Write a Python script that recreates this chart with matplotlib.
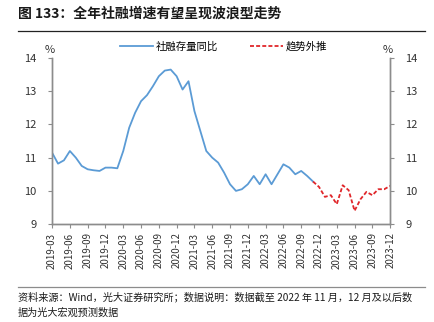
import numpy as np
import pandas as pd
import matplotlib
matplotlib.use("Agg")
import matplotlib.pyplot as plt
from matplotlib.lines import Line2D

plt.rcParams["font.family"] = ["Noto Sans CJK SC", "DejaVu Sans"]

# ── Data ──────────────────────────────────────────────────────────────────────
months = pd.date_range("2019-03", "2023-12", freq="MS").strftime("%Y-%m").tolist()

tsf_actual = [11.15, 10.82, 10.92, 11.2, 11.0, 10.75, 10.65, 10.62, 10.6, 10.7,
              10.7, 10.68, 11.2, 11.9, 12.35, 12.7, 12.88, 13.15, 13.45, 13.62,
              13.65, 13.45, 13.05, 13.3, 12.4, 11.8, 11.2, 11.0, 10.85, 10.55,
              10.2, 10.0, 10.05, 10.2, 10.45, 10.2, 10.5, 10.2, 10.5, 10.8,
              10.7, 10.5, 10.6, 10.45, 10.28]          # 2019-03 .. 2022-11
tsf_forecast = [10.28, 10.12, 9.82, 9.87, 9.6, 10.17, 10.02, 9.4, 9.75,
                9.97, 9.87, 10.05, 10.05, 10.15]      # 2022-11 .. 2023-12

BLUE = "#5B9BD5"
RED = "#E0262A"
GREY = "#8C8C8C"

x_act = np.arange(len(tsf_actual))
x_fc = np.arange(len(tsf_actual) - 1, len(tsf_actual) - 1 + len(tsf_forecast))

fig = plt.figure(figsize=(4.34, 3.22), dpi=100)
ax = fig.add_axes([0.12, 0.304, 0.779, 0.516])

ax.plot(x_act, tsf_actual, color=BLUE, lw=1.3)
ax.plot(x_fc, tsf_forecast, color=RED, lw=1.3, ls=(0, (2.2, 1.2)))

ax.set_xlim(0, len(months) - 1)
ax.set_ylim(9, 14)
ax.set_yticks(range(9, 15))
ax.set_xticks(range(0, len(months), 3))
ax.set_xticklabels(months[::3], rotation=90, fontsize=7, color="#333333")

ax.tick_params(axis="y", labelsize=8, colors="#333333", length=3, width=0.8,
               color=GREY, pad=8)
ax.tick_params(axis="x", length=3, width=0.8, color=GREY, pad=3)

for s in ["left", "right", "bottom"]:
    ax.spines[s].set_color(GREY)
    ax.spines[s].set_linewidth(1.0)
ax.spines["top"].set_visible(False)

ax2 = ax.twinx()
ax2.set_ylim(9, 14)
ax2.set_yticks(range(9, 15))
ax2.tick_params(axis="y", labelsize=8, colors="#333333", length=3, width=0.8,
                color=GREY, pad=8)
for s in ["left", "right", "bottom"]:
    ax2.spines[s].set_color(GREY)
    ax2.spines[s].set_linewidth(1.0)
ax2.spines["top"].set_visible(False)

fig.text(0.115, 0.835, "%", fontsize=8, color="#333333", ha="center")
fig.text(0.893, 0.835, "%", fontsize=8, color="#333333", ha="center")

handles = [Line2D([], [], color=BLUE, lw=1.3),
           Line2D([], [], color=RED, lw=1.3, ls=(0, (2.2, 1.2)))]
fig.legend(handles, ["社融存量同比", "趋势外推"], loc="center",
           bbox_to_anchor=(0.515, 0.855), ncol=2, frameon=False, fontsize=7.5,
           handlelength=3.2, handletextpad=0.3, columnspacing=3.0)

# title + rules
fig.text(0.041, 0.958, "图 133：全年社融增速有望呈现波浪型走势", fontsize=10,
         fontweight="bold", va="center", ha="left", color="#1a1a1a")
fig.add_artist(Line2D([0.041, 0.98], [0.904, 0.904], color="#222222", lw=0.9))
fig.add_artist(Line2D([0.041, 0.98], [0.11, 0.11], color=GREY, lw=0.9))

fig.text(0.041, 0.077, "资料来源：Wind，光大证券研究所；数据说明：数据截至 2022 年 11 月，12 月及以后数",
         fontsize=7.3, va="center", ha="left", color="#1a1a1a")
fig.text(0.041, 0.028, "据为光大宏观预测数据",
         fontsize=7.3, va="center", ha="left", color="#1a1a1a")

fig.savefig("out.png", dpi=100)
